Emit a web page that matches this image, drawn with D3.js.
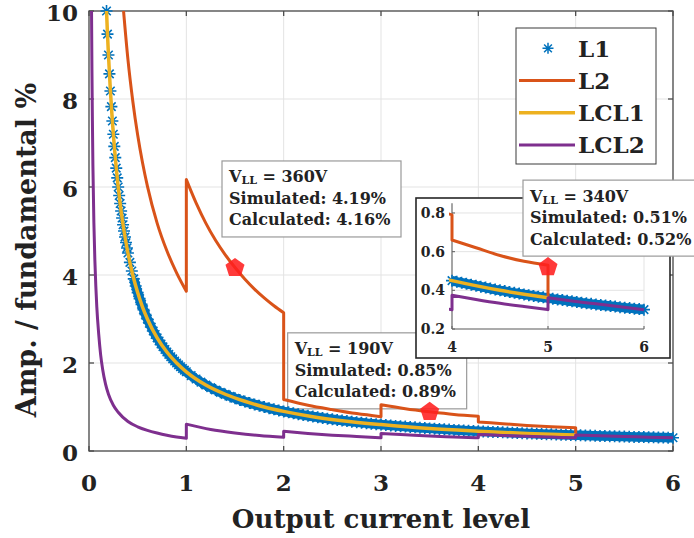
<!DOCTYPE html>
<html>
<head>
<meta charset="utf-8">
<script src="https://cdn.jsdelivr.net/npm/d3@7"></script>
<style>
  body { margin: 0; background: #fff; }
  svg { display: block; }
  text { font-family: "DejaVu Serif", serif; font-weight: bold; fill: #222; }
</style>
</head>
<body>
<svg id="chart" width="694" height="538"></svg>
<script>
// ---------------- data ----------------
const xTicks = [0, 1, 2, 3, 4, 5, 6];
const yTicks = [0, 2, 4, 6, 8, 10];
const insetXTicks = [4, 5, 6];
const insetYTicks = [0.2, 0.4, 0.6, 0.8];

// L1: marker samples on three grids (0.01, 0.02, 0.05 spacing)
const l1XFine = d3.range(18, 41).map(i => i / 100);
const l1XMid = d3.range(21, 51).map(i => i / 50);
const l1XCoarse = d3.range(21, 121).map(i => i / 20);
const l1YFine = [10.00, 9.474, 9.000, 8.571, 8.182, 7.826, 7.500, 7.200, 6.923, 6.667, 6.429, 6.207,
  6.000, 5.806, 5.625, 5.455, 5.294, 5.143, 5.000, 4.865, 4.737, 4.615, 4.500];
const l1YMid = [4.286, 4.091, 3.913, 3.750, 3.600, 3.462, 3.333, 3.214, 3.103, 3.000, 2.903, 2.813,
  2.727, 2.647, 2.571, 2.500, 2.432, 2.368, 2.308, 2.250, 2.195, 2.143, 2.093, 2.045, 2.000, 1.957,
  1.915, 1.875, 1.837, 1.800];
const l1YCoarse = [1.714, 1.636, 1.565, 1.500, 1.440, 1.385, 1.333, 1.286, 1.241, 1.200,
  1.161, 1.125, 1.091, 1.059, 1.029, 1.000, 0.973, 0.947, 0.923, 0.900,
  0.878, 0.857, 0.837, 0.818, 0.800, 0.783, 0.766, 0.750, 0.735, 0.720,
  0.706, 0.692, 0.679, 0.667, 0.655, 0.643, 0.632, 0.621, 0.610, 0.600,
  0.590, 0.581, 0.571, 0.563, 0.554, 0.545, 0.537, 0.529, 0.522, 0.514,
  0.507, 0.500, 0.493, 0.486, 0.480, 0.474, 0.468, 0.462, 0.456, 0.450,
  0.444, 0.439, 0.434, 0.429, 0.424, 0.419, 0.414, 0.409, 0.404, 0.400,
  0.396, 0.391, 0.387, 0.383, 0.379, 0.375, 0.371, 0.367, 0.364, 0.360,
  0.356, 0.353, 0.350, 0.346, 0.343, 0.340, 0.336, 0.333, 0.330, 0.327,
  0.324, 0.321, 0.319, 0.316, 0.313, 0.310, 0.308, 0.305, 0.303, 0.300];

// L2: piecewise, one array per current level
const l2SegX = [
  [0.355, 0.4, 0.45, 0.5, 0.55, 0.6, 0.7, 0.8, 0.9, 1.0],
  [1.0, 1.1, 1.2, 1.3, 1.4, 1.5, 1.6, 1.7, 1.8, 1.9, 2.0],
  [2.0, 2.25, 2.5, 2.75, 3.0],
  [3.0, 3.25, 3.5, 3.75, 4.0],
  [4.0, 4.25, 4.5, 4.75, 5.0],
  [5.0]
];
const l2SegY = [
  [10.0, 8.9, 7.95, 7.18, 6.55, 6.02, 5.18, 4.55, 4.05, 3.63],
  [6.17, 5.64, 5.18, 4.79, 4.46, 4.17, 3.91, 3.68, 3.48, 3.30, 3.14],
  [1.17, 1.04, 0.94, 0.85, 0.78],
  [1.05, 0.96, 0.89, 0.83, 0.79],
  [0.66, 0.62, 0.58, 0.55, 0.53],
  [0.36]
];

// LCL1
const lcl1X = [0.18, 0.19, 0.2, 0.22, 0.24, 0.26, 0.28, 0.3, 0.33, 0.36, 0.4, 0.45, 0.5, 0.55, 0.6,
  0.7, 0.8, 0.9, 1.0, 1.2, 1.4, 1.6, 1.8, 2.0, 2.3, 2.6, 3.0, 3.5, 4.0, 4.5, 5.0];
const lcl1Y = [10.0, 9.47, 9.0, 8.18, 7.5, 6.92, 6.43, 6.0, 5.45, 5.0, 4.5, 4.0, 3.6, 3.27, 3.0,
  2.57, 2.25, 2.0, 1.8, 1.5, 1.29, 1.13, 1.0, 0.9, 0.78, 0.69, 0.6, 0.51, 0.45, 0.40, 0.362];

// LCL2: piecewise
const lcl2SegX = [
  [0.026, 0.03, 0.035, 0.04, 0.05, 0.06, 0.07, 0.08, 0.1, 0.12, 0.14, 0.17, 0.2, 0.25, 0.3, 0.4,
   0.5, 0.6, 0.7, 0.8, 0.9, 1.0],
  [1.0, 1.25, 1.5, 1.75, 2.0],
  [2.0, 2.25, 2.5, 2.75, 3.0],
  [3.0, 3.25, 3.5, 3.75, 4.0],
  [4.0, 4.25, 4.5, 4.75, 5.0],
  [5.0, 5.25, 5.5, 5.75, 6.0]
];
const lcl2SegY = [
  [10.0, 8.7, 7.5, 6.5, 5.2, 4.35, 3.75, 3.28, 2.65, 2.18, 1.86, 1.52, 1.29, 1.04, 0.88, 0.67,
   0.55, 0.47, 0.41, 0.36, 0.32, 0.29],
  [0.61, 0.49, 0.41, 0.35, 0.31],
  [0.45, 0.40, 0.36, 0.33, 0.30],
  [0.40, 0.37, 0.34, 0.32, 0.30],
  [0.375, 0.353, 0.333, 0.316, 0.30],
  [0.362, 0.345, 0.33, 0.315, 0.30]
];

// callouts: calculated value marked by a pentagon
const noteVoltages = ["360V", "190V", "340V"];
const noteSimulated = ["4.19%", "0.85%", "0.51%"];
const noteCalculated = ["4.16%", "0.89%", "0.52%"];
const noteX = [1.5, 3.5, 5];
const noteY = [4.16, 0.89, 0.52];

const legendLabels = ["L1", "L2", "LCL1", "LCL2"];
const colors = { L1: "#0072BD", L2: "#D95319", LCL1: "#EDB120", LCL2: "#7E2F8E" };

// ---------------- layout ----------------
const svg = d3.select("#chart");
const M = { left: 89, right: 673, top: 11, bottom: 451 };
const x = d3.scaleLinear().domain([0, 6]).range([M.left, M.right]);
const y = d3.scaleLinear().domain([0, 10]).range([M.bottom, M.top]);

const IN = { left: 452, right: 644, top: 203.3, bottom: 329 };
const xi = d3.scaleLinear().domain([4, 6]).range([IN.left, IN.right]);
const yi = d3.scaleLinear().domain([0.2, 0.85]).range([IN.bottom, IN.top]);

const l1Pts = [
  ...l1XFine.map((v, i) => [v, l1YFine[i]]),
  ...l1XMid.map((v, i) => [v, l1YMid[i]]),
  ...l1XCoarse.map((v, i) => [v, l1YCoarse[i]])
];

const defs = svg.append("defs");
defs.append("clipPath").attr("id", "clipMain").append("rect")
  .attr("x", M.left - 3).attr("y", M.top).attr("width", M.right - M.left + 6).attr("height", M.bottom - M.top);
defs.append("clipPath").attr("id", "clipInset").append("rect")
  .attr("x", IN.left - 3).attr("y", IN.top).attr("width", IN.right - IN.left + 6).attr("height", IN.bottom - IN.top);

// ---------------- helpers ----------------
function asteriskPath(pts, xs, ys, r) {
  const k = r * Math.SQRT1_2;
  return pts.map(([a, b]) => {
    const cx = xs(a), cy = ys(b);
    return `M${cx - r},${cy}h${2 * r}M${cx},${cy - r}v${2 * r}` +
           `M${cx - k},${cy - k}l${2 * k},${2 * k}M${cx - k},${cy + k}l${2 * k},${-2 * k}`;
  }).join("");
}

function segmentedPath(segX, segY, xs, ys) {
  const line = d3.line().x(d => xs(d[0])).y(d => ys(d[1])).curve(d3.curveMonotoneX);
  return segX.map((sx, i) => {
    const pts = sx.map((v, j) => [v, segY[i][j]]);
    const d = pts.length > 1 ? line(pts) : `M${xs(pts[0][0])},${ys(pts[0][1])}`;
    return i === 0 ? d : "L" + d.slice(1);
  }).join("");
}

function pentagon(cx, cy, r) {
  const pts = d3.range(5).map(i => {
    const a = -Math.PI / 2 + i * 2 * Math.PI / 5;
    return [cx + r * Math.cos(a), cy + r * Math.sin(a)];
  });
  return "M" + pts.map(p => p.join(",")).join("L") + "Z";
}

function drawSeries(g, xs, ys, clipId, filterL1) {
  const l1 = l1Pts.filter(filterL1);
  // overlapping markers merge into a solid band where samples are dense
  const band = l1.filter(p => p[0] >= 0.45);
  g.append("path")
    .attr("d", d3.line().x(d => xs(d[0])).y(d => ys(d[1])).curve(d3.curveMonotoneX)(band))
    .attr("fill", "none").attr("stroke", colors.L1).attr("stroke-width", 9.5)
    .attr("stroke-linejoin", "round");
  g.append("path")
    .attr("d", asteriskPath(l1, xs, ys, 6))
    .attr("fill", "none").attr("stroke", colors.L1).attr("stroke-width", 1.6);

  const lines = g.append("g").attr("clip-path", `url(#${clipId})`);
  lines.append("path")
    .attr("d", segmentedPath(l2SegX, l2SegY, xs, ys))
    .attr("fill", "none").attr("stroke", colors.L2).attr("stroke-width", 3)
    .attr("stroke-linejoin", "round");
  lines.append("path")
    .attr("d", d3.line().x(d => xs(d)).y((d, i) => ys(lcl1Y[i])).curve(d3.curveMonotoneX)(lcl1X))
    .attr("fill", "none").attr("stroke", colors.LCL1).attr("stroke-width", 3.5);
  lines.append("path")
    .attr("d", segmentedPath(lcl2SegX, lcl2SegY, xs, ys))
    .attr("fill", "none").attr("stroke", colors.LCL2).attr("stroke-width", 3)
    .attr("stroke-linejoin", "round");
}

function drawNote(i, xs, ys) {
  const px = xs(noteX[i]), py = ys(noteY[i]);
  const offsets = [[-13, -107], [-142, -79], [-25, -87]];
  const bx = px + offsets[i][0], by = py + offsets[i][1];
  const g = svg.append("g");
  g.append("rect").attr("x", bx).attr("y", by).attr("width", 179).attr("height", 76)
    .attr("fill", "#fff").attr("stroke", "#9a9a9a").attr("stroke-width", 1.2);
  const t1 = g.append("text").attr("x", bx + 7).attr("y", by + 21.5).attr("font-size", 16);
  t1.append("tspan").text("V");
  t1.append("tspan").attr("font-size", 11).attr("dy", 2).text("LL");
  t1.append("tspan").attr("dy", -2).text(" = " + noteVoltages[i]);
  g.append("text").attr("x", bx + 7).attr("y", by + 43).attr("font-size", 16)
    .text("Simulated: " + noteSimulated[i]);
  g.append("text").attr("x", bx + 7).attr("y", by + 64.5).attr("font-size", 16)
    .text("Calculated: " + noteCalculated[i]);
}

function drawMarker(i, xs, ys) {
  svg.append("path").attr("d", pentagon(xs(noteX[i]), ys(noteY[i]), 10))
    .attr("fill", "#ff1f1f").attr("fill-opacity", 0.88);
}

// ---------------- main axes ----------------
const grid = svg.append("g").attr("stroke", "#e3e3e3").attr("stroke-width", 1);
xTicks.forEach(t => grid.append("line").attr("x1", x(t)).attr("x2", x(t)).attr("y1", M.top).attr("y2", M.bottom));
yTicks.forEach(t => grid.append("line").attr("y1", y(t)).attr("y2", y(t)).attr("x1", M.left).attr("x2", M.right));

const frame = svg.append("g").attr("stroke", "#4d4d4d").attr("stroke-width", 1.3).attr("fill", "none");
frame.append("rect").attr("x", M.left).attr("y", M.top).attr("width", M.right - M.left).attr("height", M.bottom - M.top);
xTicks.forEach(t => {
  frame.append("line").attr("x1", x(t)).attr("x2", x(t)).attr("y1", M.bottom).attr("y2", M.bottom - 5);
  frame.append("line").attr("x1", x(t)).attr("x2", x(t)).attr("y1", M.top).attr("y2", M.top + 5);
});
yTicks.forEach(t => {
  frame.append("line").attr("y1", y(t)).attr("y2", y(t)).attr("x1", M.left).attr("x2", M.left + 5);
  frame.append("line").attr("y1", y(t)).attr("y2", y(t)).attr("x1", M.right).attr("x2", M.right - 5);
});

svg.append("g").selectAll("text").data(xTicks).join("text")
  .attr("x", d => x(d)).attr("y", M.bottom + 39.5).attr("text-anchor", "middle")
  .attr("font-size", 23).text(d => d);
svg.append("g").selectAll("text").data(yTicks).join("text")
  .attr("x", 78).attr("y", d => y(d) + 10).attr("text-anchor", "end")
  .attr("font-size", 23).text(d => d);

svg.append("text").attr("x", (M.left + M.right) / 2).attr("y", 528)
  .attr("text-anchor", "middle").attr("font-size", 26).text("Output current level");
svg.append("text").attr("transform", "translate(36,250) rotate(-90)")
  .attr("text-anchor", "middle").attr("font-size", 27).text("Amp. / fundamental %");

// callouts in the main axes sit under the curves
drawNote(0, x, y);
drawNote(1, x, y);

drawSeries(svg.append("g"), x, y, "clipMain", () => true);
drawMarker(0, x, y);
drawMarker(1, x, y);

// ---------------- legend ----------------
const lg = svg.append("g");
lg.append("rect").attr("x", 516).attr("y", 28).attr("width", 140).attr("height", 136)
  .attr("fill", "#fff").attr("stroke", "#3a3a3a").attr("stroke-width", 1);
legendLabels.forEach((name, i) => {
  const cy = 48.3 + i * 32.2;
  if (name === "L1") {
    const r = 5.5, k = r * Math.SQRT1_2, cx = 548;
    lg.append("path")
      .attr("d", `M${cx - r},${cy}h${2 * r}M${cx},${cy - r}v${2 * r}M${cx - k},${cy - k}l${2 * k},${2 * k}M${cx - k},${cy + k}l${2 * k},${-2 * k}`)
      .attr("stroke", colors.L1).attr("stroke-width", 1.5).attr("fill", "none");
  } else {
    lg.append("line").attr("x1", 519).attr("x2", 575).attr("y1", cy).attr("y2", cy)
      .attr("stroke", colors[name]).attr("stroke-width", name === "LCL1" ? 3.5 : 3);
  }
  lg.append("text").attr("x", 578).attr("y", cy + 8.3).attr("font-size", 23).text(name);
});

// ---------------- inset (zoom on levels 4 to 6) ----------------
const ins = svg.append("g");
ins.append("rect").attr("x", 416).attr("y", 198).attr("width", 254).attr("height", 160)
  .attr("fill", "#fff").attr("stroke", "#262626").attr("stroke-width", 1.6);
const ig = ins.append("g").attr("stroke", "#e3e3e3").attr("stroke-width", 1);
insetXTicks.forEach(t => ig.append("line").attr("x1", xi(t)).attr("x2", xi(t)).attr("y1", IN.top).attr("y2", IN.bottom));
insetYTicks.forEach(t => ig.append("line").attr("y1", yi(t)).attr("y2", yi(t)).attr("x1", IN.left).attr("x2", IN.right));
const ia = ins.append("g").attr("stroke", "#666").attr("stroke-width", 1.1);
ia.append("line").attr("x1", IN.left).attr("x2", IN.left).attr("y1", IN.top).attr("y2", IN.bottom);
ia.append("line").attr("x1", IN.left).attr("x2", IN.right).attr("y1", IN.bottom).attr("y2", IN.bottom);
insetXTicks.forEach(t => ia.append("line").attr("x1", xi(t)).attr("x2", xi(t)).attr("y1", IN.bottom).attr("y2", IN.bottom - 3));
insetYTicks.forEach(t => ia.append("line").attr("y1", yi(t)).attr("y2", yi(t)).attr("x1", IN.left).attr("x2", IN.left + 3));
ins.append("g").selectAll("text").data(insetXTicks).join("text")
  .attr("x", d => xi(d)).attr("y", IN.bottom + 22.5).attr("text-anchor", "middle")
  .attr("font-size", 14).text(d => d);
ins.append("g").selectAll("text").data(insetYTicks).join("text")
  .attr("x", IN.left - 7).attr("y", d => yi(d) + 5).attr("text-anchor", "end")
  .attr("font-size", 14).text(d => d.toFixed(1));

drawSeries(ins.append("g"), xi, yi, "clipInset", p => p[0] >= 3.999 && p[0] <= 6.001);

drawNote(2, xi, yi);
drawMarker(2, xi, yi);
</script>
</body>
</html>
